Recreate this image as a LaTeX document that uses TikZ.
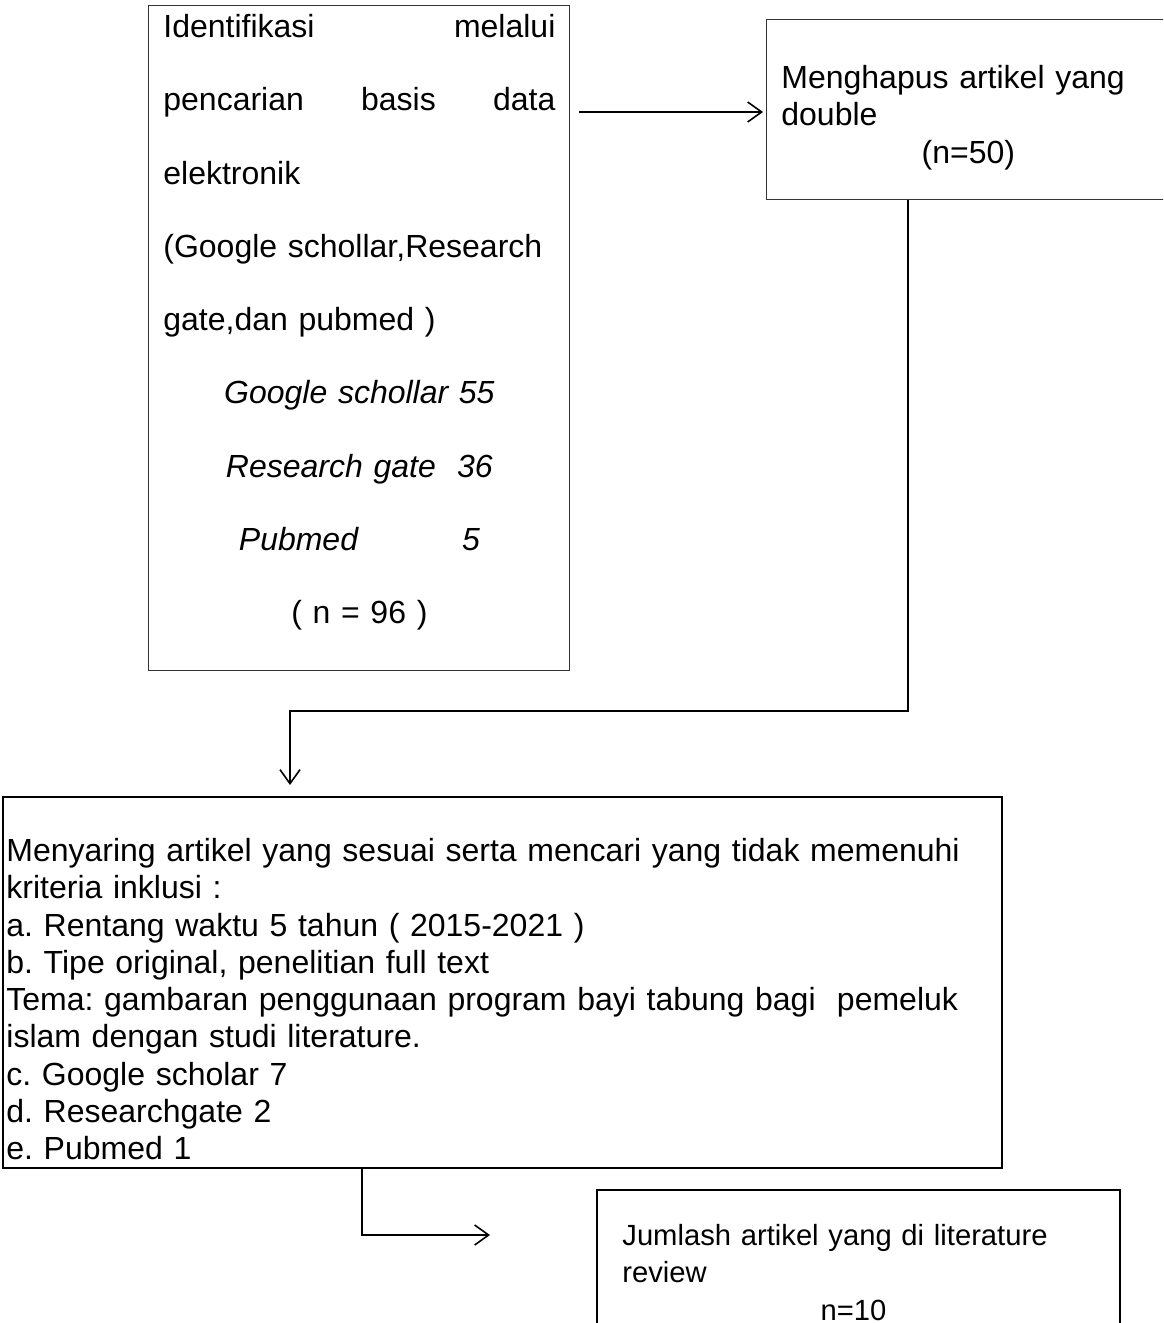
\documentclass[tikz,border=0pt]{standalone}
\usepackage{fontspec}
\setmainfont{Liberation Sans}
\usetikzlibrary{arrows.meta}
\frenchspacing
\begin{document}
\begin{tikzpicture}[x=0.5pt,y=-0.5pt,
  box/.style={draw=black!80, line width=0.65pt, inner sep=0pt, anchor=north west},
  boxb/.style={draw=black, line width=1pt, inner sep=0pt, anchor=north west},
  txt/.style={inner sep=0pt, anchor=north west, align=left, font=\frenchspacing\fontsize{16}{18.65}\selectfont},
  arr/.style={line width=0.85pt, -{Straight Barb[length=7pt,width=10pt,line width=0.8pt]}}]
\useasboundingbox (0,0) rectangle (1163,1323);
\clip (0,0) rectangle (1163,1323);
% boxes
\node[box, minimum width=210.5pt, minimum height=332.5pt] (b1) at (148,5) {};
\node[box, minimum width=200pt, minimum height=90pt] (b2) at (766,19) {};
\node[boxb, minimum width=499.5pt, minimum height=185.5pt] (b3) at (2,796) {};
\node[boxb, minimum width=261.5pt, minimum height=80pt] (b4) at (596,1189) {};
% texts
\node[txt, text width=196pt, font=\frenchspacing\fontsize{16}{36.65}\selectfont] (t1) at (163,13) {\rule{0pt}{12pt}Identifikasi\hfill melalui\\
pencarian\hfill basis\hfill data\\
elektronik\\
(Google schollar,Research\\
gate,dan pubmed )\\
\makebox[196pt]{\itshape Google schollar 55}\\
\makebox[196pt]{\itshape Research gate\ \ 36}\\
\makebox[196pt]{\itshape Pubmed\hspace{52pt}5}\\
\makebox[196pt]{( n = 96 )}};
\node[txt, text width=187pt] (t2) at (781,64) {\rule{0pt}{12pt}Menghapus artikel yang\\
double\\
\makebox[187pt]{(n=50)}};
\node[txt, text width=495pt] (t3) at (6,837) {\rule{0pt}{12pt}Menyaring artikel yang sesuai serta mencari yang tidak memenuhi\\
kriteria inklusi :\\
a. Rentang waktu 5 tahun ( 2015-2021 )\\
b. Tipe original, penelitian full text\\
Tema: gambaran penggunaan program bayi tabung bagi\ \ pemeluk\\
islam dengan studi literature.\\
c. Google scholar 7\\
d. Researchgate 2\\
e. Pubmed 1};
\node[txt, text width=231pt, font=\frenchspacing\fontsize{14.6}{18.7}\selectfont] (t4) at (622,1221) {\rule{0pt}{12pt}Jumlash artikel yang di literature\\
review\\
\makebox[231pt]{n=10}};
% connectors
\coordinate (k0) at (0,112);
\draw[arr, shorten <=4.5pt, shorten >=1.5pt] (b1.east |- k0) -- (b2.west |- k0);
\coordinate (k1) at (908,711);
\coordinate (k2) at (290,711);
\draw[arr, shorten >=5.5pt] (b2.south -| k1) -- (k1) -- (k2) -- (b3.north -| k2);
\coordinate (k3) at (362,1235);
\coordinate (k4) at (490,1235);
\draw[arr] (b3.south -| k3) -- (k3) -- (k4);
\end{tikzpicture}
\end{document}
